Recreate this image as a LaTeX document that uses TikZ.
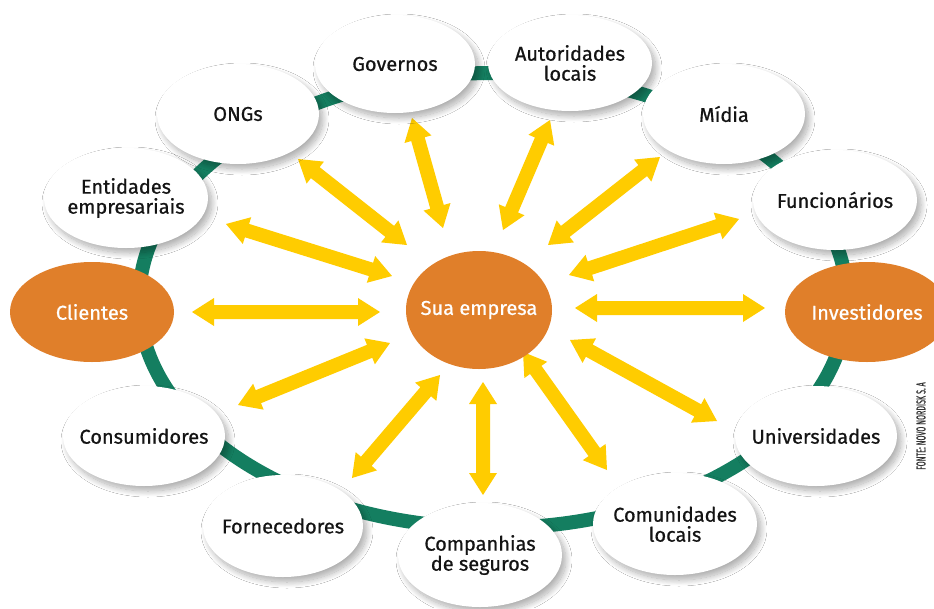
\documentclass[tikz,border=0pt]{standalone}
\usepackage{fontspec}
\setmainfont{Fira Sans}[FakeBold=0.7]
\usetikzlibrary{shapes.geometric,shadows.blur}
\definecolor{ringgreen}{RGB}{20,126,96}
\definecolor{hub}{RGB}{224,127,42}
\definecolor{arrowyellow}{RGB}{255,204,0}
\definecolor{txt}{RGB}{20,20,20}
\newcommand\yarrow[2]{%
  \path (#1); \pgfgetlastxy{\yaxa}{\yaya}%
  \path (#2); \pgfgetlastxy{\yaxb}{\yayb}%
  \pgfmathsetmacro\yaang{atan2(\yayb-\yaya,\yaxb-\yaxa)}%
  \pgfmathsetmacro\yalen{veclen(\yaxb-\yaxa,\yayb-\yaya)}%
  \fill[yarrowstyle, shift={(#1)}, rotate=\yaang] (0,0) -- (22,14) -- (22,7) -- ({\yalen-22},7) -- ({\yalen-22},14) -- (\yalen,0) -- ({\yalen-22},-14) -- ({\yalen-22},-7) -- (22,-7) -- (22,-14) -- cycle;}
\tikzset{
  yarrowstyle/.style={fill=arrowyellow},
  pill/.style={ellipse, inner sep=-30pt, align=center, font=\fontsize{20}{20}\selectfont, text=txt},
  outer/.style={pill, fill=white, blur shadow={shadow xshift=4pt, shadow yshift=-5pt, shadow blur radius=6pt, shadow blur steps=14, shadow opacity=32}},
  hubnode/.style={pill, fill=hub, text=white},
}
\begin{document}
\begin{tikzpicture}[x=1pt,y=-1pt]
\useasboundingbox (0,0) rectangle (934,608);
\clip (0,0) rectangle (934,608);
\fill[white] (0,0) rectangle (934,608);
% ring
\draw[ringgreen, line width=14pt] (493,300.5) ellipse [x radius=354, y radius=227.5];
% arrow end points
\coordinate (a1) at (192,312); \coordinate (b1) at (380,312);
\coordinate (a2) at (575,308); \coordinate (b2) at (765,308);
\coordinate (a3) at (226,224); \coordinate (b3) at (392,276);
\coordinate (a4) at (238,405); \coordinate (b4) at (390,343);
\coordinate (a5) at (298,159); \coordinate (b5) at (407,245);
\coordinate (a6) at (412,118); \coordinate (b6) at (443,228);
\coordinate (a7) at (550,120); \coordinate (b7) at (503,230);
\coordinate (a8) at (660,157); \coordinate (b8) at (548,245);
\coordinate (a9) at (739,219); \coordinate (b9) at (569,275);
\coordinate (a10) at (570,340); \coordinate (b10) at (717,421);
\coordinate (a11) at (523,352); \coordinate (b11) at (607,470);
\coordinate (a12) at (483,382); \coordinate (b12) at (483,495);
\coordinate (a13) at (440,375); \coordinate (b13) at (352,478);
\yarrow{a1}{b1}\yarrow{a2}{b2}\yarrow{a3}{b3}\yarrow{a4}{b4}
\yarrow{a5}{b5}\yarrow{a6}{b6}\yarrow{a7}{b7}\yarrow{a8}{b8}
\yarrow{a9}{b9}\yarrow{a10}{b10}\yarrow{a11}{b11}\yarrow{a12}{b12}
\yarrow{a13}{b13}
% outer nodes
\node[outer, minimum width=160, minimum height=98] (gov) at (395,64) {Governos};
\node[outer, minimum width=164, minimum height=96] (aut) at (570,63) {Autoridades\\locais};
\node[outer, minimum width=162, minimum height=100] (ong) at (238,114) {ONGs};
\node[outer, minimum width=164, minimum height=100] (ent) at (126,198) {Entidades\\empresariais};
\node[outer, minimum width=162, minimum height=100] (mid) at (724,114) {Mídia};
\node[outer, minimum width=164, minimum height=100] (fun) at (835,200) {Funcionários};
\node[outer, minimum width=162, minimum height=100] (uni) at (816,436) {Universidades};
\node[outer, minimum width=164, minimum height=102] (com) at (675,524) {Comunidades\\locais};
\node[outer, minimum width=164, minimum height=104] (cia) at (480,555) {Companhias\\de seguros};
\node[outer, minimum width=160, minimum height=102] (forn) at (283,526) {Fornecedores};
\node[outer, minimum width=162, minimum height=100] (cons) at (144,436) {Consumidores};
% orange nodes
\node[hubnode, minimum width=164, minimum height=100] (cli) at (92,312) {Clientes};
\node[hubnode, minimum width=164, minimum height=100] (inv) at (867,312) {Investidores};
\node[hubnode, minimum width=146, minimum height=118] (sua) at (479,310) {Sua empresa};
% source
\node[rotate=90, text=black!80, inner sep=0] (src) at (921,426) {\fontsize{13}{13}\selectfont\scalebox{0.55}[1]{FONTE: NOVO NORDISK S. A}};
\end{tikzpicture}
\end{document}
